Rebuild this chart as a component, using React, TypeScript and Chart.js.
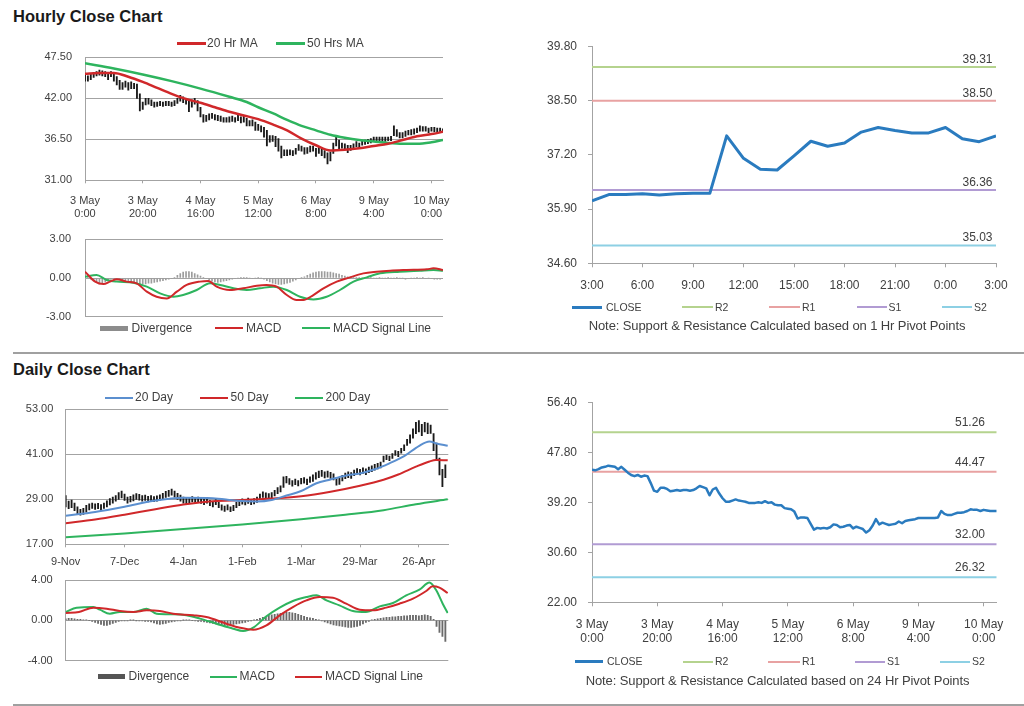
import React, { useEffect, useRef } from 'react';
import { Chart, registerables } from 'chart.js';

Chart.register(...registerables);

const FONT = "'Liberation Sans', Arial, sans-serif";
Chart.defaults.font.family = FONT;
Chart.defaults.color = '#404040';

const RED = '#d0282a';
const GREEN = '#2eb45e';
const BLUE_MA = '#5b8fcf';
const CLOSE_BLUE = '#2a7bbf';
const GRID = '#a3a3a3';
const TXT = '#404040';

// ---------------- Hourly close chart (top-left) ----------------
const hourTickPos = [0, 20, 40, 60, 80, 100, 120];
const hourlyTickLabels = [
  ['3 May', '0:00'], ['3 May', '20:00'], ['4 May', '16:00'], ['5 May', '12:00'],
  ['6 May', '8:00'], ['9 May', '4:00'], ['10 May', '0:00'],
];
const hourlyYTicks = [31, 36.5, 42, 47.5];

const hourlyClose = [
  44.8, 44.7, 44.9, 45.2, 45.3, 45.5, 45.4, 45.3, 44.9, 45.3,
  44.8, 44.3, 43.9, 43.7, 43.9, 43.6, 43.8, 43.7, 42.5, 41.2,
  41.0, 41.7, 41.7, 41.5, 41.1, 41.2, 41.3, 41.2, 41.3, 41.3,
  41.2, 41.3, 41.6, 42.0, 41.8, 41.6, 40.4, 41.4, 41.7, 40.7,
  39.9, 39.3, 39.3, 39.5, 39.7, 39.5, 39.4, 39.3, 39.1, 39.1,
  39.1, 39.2, 39.1, 39.4, 39.1, 39.2, 38.8, 38.7, 38.7, 38.2,
  38.1, 38.0, 37.6, 36.4, 36.6, 36.6, 36.5, 35.5, 34.5, 34.8,
  34.7, 34.8, 34.7, 34.9, 35.4, 35.3, 34.9, 35.0, 35.2, 35.3,
  34.7, 35.0, 34.8, 34.6, 34.0, 34.4, 35.2, 36.3, 35.4, 35.7,
  35.5, 35.3, 35.4, 35.5, 35.9, 35.6, 36.0, 36.1, 36.2, 36.3,
  36.5, 36.5, 36.5, 36.5, 36.5, 36.5, 36.6, 37.7, 37.2, 37.0,
  37.0, 37.2, 37.4, 37.4, 37.5, 37.7, 38.0, 37.9, 37.9, 37.7,
  37.9, 37.8, 37.7, 37.7, 37.7,
];
const hourlyHigh = [
  45.2, 45.0, 45.3, 45.5, 45.6, 45.8, 45.7, 45.6, 45.4, 45.6,
  45.4, 44.9, 44.4, 44.1, 44.3, 44.1, 44.2, 44.0, 43.9, 42.6,
  41.5, 42.0, 42.0, 41.8, 41.5, 41.5, 41.6, 41.5, 41.6, 41.6,
  41.5, 41.7, 42.0, 42.4, 42.2, 42.0, 41.7, 41.8, 42.0, 41.7,
  40.8, 39.8, 39.7, 39.9, 40.0, 39.8, 39.7, 39.6, 39.4, 39.4,
  39.5, 39.6, 39.4, 39.8, 39.5, 39.6, 39.3, 39.0, 39.1, 38.8,
  38.5, 38.3, 38.1, 37.7, 37.0, 37.0, 36.9, 36.6, 35.6, 35.1,
  35.1, 35.1, 35.0, 35.3, 35.8, 35.6, 35.4, 35.4, 35.6, 35.6,
  35.3, 35.4, 35.2, 35.0, 34.7, 34.8, 36.0, 36.8, 36.4, 36.0,
  35.9, 35.7, 35.7, 35.9, 36.2, 36.0, 36.3, 36.4, 36.5, 36.6,
  36.8, 36.8, 36.8, 36.8, 36.8, 36.8, 36.9, 38.3, 37.8, 37.4,
  37.4, 37.6, 37.7, 37.8, 37.9, 38.0, 38.3, 38.2, 38.2, 38.0,
  38.1, 38.1, 38.0, 38.0, 37.9,
];
const hourlyLow = [
  44.3, 44.3, 44.5, 44.8, 45.0, 45.1, 45.0, 44.9, 44.5, 44.9,
  44.3, 43.8, 43.2, 43.2, 43.5, 43.1, 43.3, 43.3, 42.0, 40.3,
  40.5, 41.1, 41.2, 41.0, 40.8, 40.9, 41.0, 40.9, 41.0, 41.0,
  40.9, 41.0, 41.3, 41.6, 41.4, 41.2, 40.2, 40.8, 41.2, 40.3,
  39.5, 38.8, 38.9, 39.1, 39.3, 39.1, 39.0, 38.9, 38.8, 38.8,
  38.8, 38.9, 38.8, 39.0, 38.7, 38.8, 38.3, 38.3, 38.3, 37.7,
  37.7, 37.5, 36.8, 35.6, 36.1, 36.2, 35.5, 34.9, 34.0, 34.3,
  34.3, 34.4, 34.3, 34.5, 35.0, 34.9, 34.5, 34.6, 34.8, 34.9,
  34.2, 34.6, 34.3, 34.0, 33.2, 33.6, 34.6, 35.6, 35.0, 35.3,
  35.1, 34.7, 35.0, 35.2, 35.5, 35.3, 35.7, 35.8, 35.9, 36.0,
  36.2, 36.2, 36.2, 36.2, 36.2, 36.3, 36.3, 37.0, 36.9, 36.7,
  36.7, 36.9, 37.1, 37.1, 37.2, 37.4, 37.6, 37.6, 37.6, 37.4,
  37.6, 37.5, 37.4, 37.4, 37.4,
];
const hourlyMa20 = [
  [0, 45.3], [5, 45.4], [10, 45.4], [15, 44.9], [20, 44.2], [25, 43.4], [30, 42.6],
  [35, 41.9], [40, 41.4], [45, 40.8], [50, 40.2], [55, 39.7], [60, 39.2], [65, 38.5],
  [70, 37.7], [75, 36.6], [80, 35.7], [85, 35.0], [90, 35.1], [95, 35.3], [100, 35.6],
  [105, 35.9], [110, 36.4], [115, 36.9], [120, 37.2], [124, 37.5],
];
const hourlyMa50 = [
  [0, 46.7], [10, 46.0], [20, 45.2], [30, 44.3], [40, 43.3], [50, 42.2], [56, 41.5],
  [60, 40.8], [65, 40.0], [70, 39.1], [75, 38.3], [80, 37.7], [85, 37.1], [90, 36.7],
  [95, 36.4], [100, 36.2], [105, 36.0], [110, 35.9], [115, 35.9], [120, 36.1], [124, 36.4],
];

// ---------------- Hourly MACD ----------------
const hourlyMacdTicks = [-3, 0, 3];
const hourlyMacd = [
  [0, 0.49], [3.5, -0.28], [6.4, -0.47], [8.7, -0.28], [11, -0.1], [14.4, -0.28], [17.9, -0.41],
  [21.4, -1.06], [24.8, -1.45], [28.3, -1.58], [31.8, -1.06], [35.2, -0.54], [39.8, -0.28],
  [42.7, -0.23], [45.6, -0.67], [50.2, -0.93], [54.8, -0.8], [59.5, -0.6], [62.9, -0.54],
  [66.4, -0.67], [69.9, -1.32], [73.3, -1.71], [75.6, -1.71], [79.1, -1.32], [82.6, -0.8],
  [87.2, -0.28], [91.8, 0.05], [96.4, 0.36], [101, 0.49], [105.7, 0.57], [111.4, 0.62],
  [118.4, 0.67], [120.7, 0.75], [124, 0.62],
];
const hourlySignal = [
  [0, 0.1], [4, 0.23], [7.5, -0.15], [11, -0.28], [16.7, -0.36], [21.4, -0.67], [26, -1.19],
  [30.6, -1.45], [34, -1.32], [38.7, -0.93], [43.3, -0.41], [46.8, -0.54], [51.4, -0.8],
  [56, -0.93], [60.6, -0.8], [65.2, -0.67], [69.9, -0.93], [74.5, -1.45], [79.1, -1.66],
  [83.7, -1.45], [88.3, -0.93], [93, -0.28], [97.6, 0.05], [102.2, 0.36], [109, 0.49],
  [116, 0.57], [120.7, 0.62], [124, 0.57],
];
const hourlyDivergence = [
  0.3, 0.2,
  -0.1, -0.25, -0.35, -0.45, -0.4, -0.3, -0.2,
  -0.1, -0.05, -0.1, -0.15,
  -0.2, -0.25, -0.3, -0.3, -0.35, -0.4, -0.45, -0.45, -0.45, -0.4, -0.4, -0.35, -0.3, -0.25, -0.2, -0.15,
  -0.1, -0.05, 0.05,
  0.2, 0.35, 0.45, 0.5, 0.5, 0.45, 0.35, 0.25, 0.15,
  0.05, -0.05, -0.15, -0.25,
  -0.3, -0.35, -0.3, -0.25, -0.2, -0.15, -0.1, -0.05,
  0.0, 0.05, 0.05, 0.05, 0.0, -0.05, 0.0, 0.05, 0.0, -0.1, -0.2,
  -0.3, -0.4, -0.45, -0.5, -0.5, -0.45, -0.4, -0.35, -0.25, -0.15,
  -0.05, 0.05, 0.1, 0.2,
  0.3, 0.4, 0.45, 0.5, 0.5, 0.5, 0.45, 0.45, 0.4, 0.35, 0.3, 0.2, 0.15,
  0.1, 0.1, 0.05, 0.05, 0.05, 0.0, 0.05, 0.0, 0.05, 0.0, 0.0, 0.05, 0.0, 0.0, 0.05, 0.0, 0.0, 0.05, 0.0, 0.0,
  -0.1, -0.05, 0.0, 0.0, 0.05,
  0.0, 0.05, -0.05, 0.0, -0.05, -0.1, -0.1, -0.1, -0.05,
];

// ---------------- 1 Hr pivot chart (top-right) ----------------
const pivotHourTickPos = [0, 3, 6, 9, 12, 15, 18, 21, 24];
const pivotHourLabels = ['3:00', '6:00', '9:00', '12:00', '15:00', '18:00', '21:00', '0:00', '3:00'];
const pivotHourYTicks = [34.6, 35.9, 37.2, 38.5, 39.8];
const pivotHourClose = [
  36.1, 36.25, 36.25, 36.27, 36.24, 36.27, 36.28, 36.28, 37.66, 37.12, 36.86, 36.84, 37.18,
  37.53, 37.41, 37.49, 37.75, 37.86, 37.79, 37.73, 37.73, 37.86, 37.59, 37.52, 37.66,
];
const levelNames = ['R2', 'R1', 'S1', 'S2'];
const levelColors = ['#b5d38e', '#e8a2a2', '#b19bd3', '#8dd0e4'];
const pivotHourLevels = [39.31, 38.5, 36.36, 35.03];

// ---------------- Daily close chart ----------------
const dayTickPos = [0, 20, 40, 60, 80, 100, 120];
const dailyTickLabels = ['9-Nov', '7-Dec', '4-Jan', '1-Feb', '1-Mar', '29-Mar', '26-Apr'];
const dailyYTicks = [17, 29, 41, 53];
const dailyHigh = [
  30.0, 28.5, 28.8, 28.0, 27.0, 26.3, 26.6, 27.4, 27.8, 28.0,
  27.8, 27.9, 27.6, 28.0, 28.6, 29.2, 29.6, 30.0, 30.8, 31.2,
  30.4, 29.6, 29.8, 30.2, 30.5, 30.3, 30.0, 30.1, 29.8, 30.0,
  29.7, 29.9, 30.2, 30.6, 31.1, 31.4, 31.7, 31.2, 30.6, 30.1,
  29.6, 29.3, 29.5, 29.7, 29.4, 29.6, 29.3, 29.0, 29.4, 28.7,
  28.4, 29.0, 28.2, 27.5, 27.2, 27.5, 27.0, 27.4, 28.2, 28.7,
  29.1, 28.9, 29.3, 29.0, 29.2, 29.6, 30.4, 31.0, 30.7, 30.5,
  30.8, 31.4, 32.1, 32.6, 35.0, 35.1, 34.5, 34.0, 34.4, 34.0,
  34.6, 34.8, 34.4, 35.0, 35.5, 36.1, 36.5, 36.7, 36.3, 36.5,
  36.2, 35.8, 34.6, 34.6, 35.4, 36.0, 36.3, 36.1, 36.8, 37.2,
  37.0, 37.4, 37.1, 37.6, 37.9, 38.3, 38.6, 38.9, 40.5, 40.8,
  40.5, 41.2, 42.0, 41.8, 42.6, 43.5, 45.0, 46.2, 47.8, 49.5,
  50.0, 49.0, 49.5, 49.3, 48.8, 46.5, 44.0, 40.0, 37.0, 38.2,
];
const dailyLow = [
  27.0, 26.5, 26.8, 26.0, 25.2, 24.8, 25.0, 25.6, 26.2, 26.6,
  26.3, 26.5, 26.1, 26.6, 27.0, 27.5, 28.0, 28.5, 29.0, 29.4,
  28.7, 28.0, 28.3, 28.6, 29.0, 28.8, 28.5, 28.7, 28.3, 28.6,
  28.4, 28.5, 28.8, 29.1, 29.5, 29.8, 30.1, 29.6, 29.0, 28.5,
  28.0, 27.8, 28.0, 28.3, 28.0, 28.2, 27.9, 27.6, 28.0, 27.3,
  27.0, 27.6, 26.8, 26.1, 25.8, 26.2, 25.7, 26.0, 26.8, 27.3,
  27.7, 27.5, 27.9, 27.6, 27.8, 28.2, 28.9, 29.5, 29.3, 29.1,
  29.4, 29.9, 30.5, 31.0, 32.2, 33.4, 33.0, 32.5, 32.9, 32.6,
  33.1, 33.3, 32.9, 33.5, 33.8, 34.4, 34.8, 35.1, 34.7, 34.9,
  34.6, 34.2, 32.8, 33.0, 33.9, 34.5, 34.8, 34.6, 35.3, 35.7,
  35.5, 35.9, 35.6, 36.1, 36.4, 36.8, 37.1, 37.4, 39.0, 39.6,
  39.3, 39.9, 40.7, 40.4, 41.3, 42.0, 43.4, 44.0, 45.3, 46.5,
  47.0, 46.0, 47.0, 46.5, 46.6, 42.0, 39.5, 35.5, 32.4, 34.8,
];
const dailyMa20 = [
  [0, 24.6], [10, 25.6], [20, 27.0], [30, 28.6], [40, 29.4], [50, 29.3], [58, 28.6], [65, 28.4],
  [70, 28.8], [75, 30.0], [80, 31.2], [85, 33.2], [90, 34.3], [95, 35.3], [100, 35.9], [105, 37.0],
  [110, 38.6], [115, 40.5], [120, 43.2], [123.6, 44.4], [126, 43.9], [129.8, 43.3],
];
const dailyMa50 = [
  [0, 22.6], [10, 23.6], [20, 24.9], [30, 26.3], [40, 27.6], [50, 28.5], [60, 28.8], [70, 29.2],
  [80, 29.8], [90, 31.0], [100, 32.6], [108, 34.2], [113, 35.6], [119, 37.7], [123.6, 39.1],
  [125.8, 39.5], [129.8, 39.4],
];
const dailyMa200 = [
  [0, 18.9], [20, 19.9], [40, 21.1], [60, 22.3], [80, 23.7], [95, 24.9], [108, 26.1], [119, 27.7],
  [129.8, 29.0],
];

// ---------------- Daily MACD ----------------
const dailyMacdTicks = [-4, 0, 4];
const dailyMacd = [
  [0, 0.83], [3.7, 1.26], [9.4, 1.32], [11.6, 1.06], [15, 0.66], [18.4, 0.83], [23, 0.83],
  [27.5, 1.16], [30.9, 0.66], [36.5, 0.6], [41, 0.5], [45.6, 0.17], [51.2, -0.33], [56.9, -0.83],
  [60.3, -1.06], [63.7, -0.73], [68.2, 0.4], [72.7, 1.26], [77.2, 1.92], [81.8, 2.31], [85.2, 2.48],
  [88.6, 1.98], [93, 1.49], [97.6, 0.93], [102, 0.83], [106.7, 1.39], [111.2, 1.72], [115.7, 2.48],
  [120.2, 3.04], [123.6, 3.74], [125.9, 2.98], [128.1, 1.65], [129.8, 0.73],
];
const dailySignal = [
  [0, 0.73], [4.5, 0.83], [9.4, 1.26], [13.9, 1.16], [18.4, 0.93], [23, 0.83], [27.5, 0.99],
  [32, 0.93], [36.5, 0.66], [43.3, 0.5], [47.8, 0.33], [54.6, -0.33], [59.2, -0.73], [63.7, -0.93],
  [68.2, -0.5], [72.7, 0.5], [77.2, 1.32], [81.8, 1.98], [86.3, 2.31], [90.8, 2.25], [95.3, 1.65],
  [99.9, 1.06], [104.4, 0.99], [108.9, 1.26], [113.4, 1.65], [118, 2.15], [122.5, 2.91],
  [124.7, 3.37], [127, 3.24], [129.8, 2.71],
];
const dailyDivergence = [
  0.15, 0.2, 0.2, 0.15, 0.1, 0.1, 0.05, 0.05, 0.0,
  -0.1, -0.2, -0.3, -0.4, -0.5, -0.5, -0.4, -0.3, -0.2,
  -0.1, -0.05, -0.05, -0.05, 0.02, 0.02, -0.03, -0.05, -0.05, -0.1, -0.1, -0.15,
  -0.25, -0.35, -0.4, -0.35, -0.3, -0.2, -0.15, -0.1, -0.05,
  -0.05, 0.02, 0.05, 0.05, 0.0, -0.05, -0.1, -0.1, -0.15,
  -0.2, -0.25, -0.3, -0.35, -0.4, -0.45, -0.5, -0.5, -0.45, -0.4, -0.35, -0.3, -0.25, -0.2, -0.1, -0.05,
  0.05, 0.1, 0.2, 0.3, 0.4, 0.5, 0.55, 0.6, 0.65, 0.7, 0.75, 0.8, 0.8, 0.75, 0.7, 0.6, 0.5, 0.4, 0.3, 0.25, 0.2, 0.1, 0.05,
  -0.05, -0.15, -0.25, -0.35, -0.45, -0.5, -0.55, -0.6, -0.65, -0.7, -0.7, -0.65, -0.6, -0.5, -0.35, -0.2, -0.1,
  0.05, 0.1, 0.15, 0.2, 0.25, 0.3, 0.3, 0.35, 0.35, 0.4, 0.4, 0.45, 0.45, 0.5, 0.5, 0.5, 0.45, 0.5, 0.55, 0.5, 0.4, 0.1,
  -0.6, -1.2, -1.6, -2.1,
];

// ---------------- 24 Hr pivot chart (bottom-right) ----------------
const pivotDayYTicks = [22, 30.6, 39.2, 47.8, 56.4];
const pivotDayLevels = [51.26, 44.47, 32.0, 26.32];

// ---------------- helpers ----------------
const pts = (pairs: number[][]) => pairs.map(([x, y]) => ({ x, y }));

const levelLabelPlugin = {
  id: 'levelLabels',
  afterDatasetsDraw(chart: any, _args: any, opts: any) {
    const { ctx, chartArea, scales } = chart;
    ctx.save();
    ctx.font = `12px ${FONT}`;
    ctx.fillStyle = TXT;
    ctx.textAlign = 'right';
    ctx.textBaseline = 'middle';
    chart.data.datasets.forEach((ds: any) => {
      if (ds.levelValue === undefined) return;
      const y = scales.y.getPixelForValue(ds.levelValue);
      ctx.fillText(ds.levelValue.toFixed(2), chartArea.right - opts.dx, y - opts.dy);
    });
    ctx.restore();
  },
};

function baseOptions(pad: any, extraPlugins: any = {}) {
  return {
    animation: false,
    responsive: false,
    devicePixelRatio: 1,
    events: [],
    layout: { padding: pad, autoPadding: false },
    plugins: { legend: { display: false }, tooltip: { enabled: false }, ...extraPlugins },
    elements: { point: { radius: 0 }, line: { borderJoinStyle: 'round' } },
  };
}

function xAxis(min: number, max: number, positions: number[], labels: any[], o: any) {
  return {
    type: 'linear',
    min,
    max,
    offset: false,
    afterBuildTicks: (s: any) => {
      s.ticks = positions.map((v) => ({ value: v }));
    },
    afterFit: (s: any) => {
      s.height = o.height;
    },
    ticks: {
      autoSkip: false,
      maxRotation: 0,
      padding: o.padding,
      color: TXT,
      font: { size: o.size, lineHeight: o.lineHeight },
      callback: (_v: any, i: number) => labels[i],
    },
    grid: { drawOnChartArea: false, drawTicks: true, tickLength: o.tickLength, color: GRID, offset: false },
    border: { display: true, color: GRID, width: 1 },
  };
}

const hiddenX = (max: number) => ({ type: 'linear', min: 0, max, offset: false, display: false, grid: { offset: false } });

// gap: distance between the axis line and the right edge of the labels
function yAxis(values: number[], o: any) {
  const visibleTick = o.visibleTick || 0;
  return {
    type: 'linear',
    min: values[0],
    max: values[values.length - 1],
    afterBuildTicks: (s: any) => {
      s.ticks = values.map((v) => ({ value: v }));
    },
    afterFit: (s: any) => {
      s.width = o.width;
    },
    ticks: {
      padding: visibleTick ? o.gap - visibleTick : 0,
      color: TXT,
      font: { size: o.size },
      callback: (v: any) => Number(v).toFixed(2),
    },
    grid: {
      drawOnChartArea: o.grid,
      drawTicks: true,
      tickLength: visibleTick ? visibleTick : o.gap,
      tickColor: visibleTick ? GRID : 'rgba(0,0,0,0)',
      color: GRID,
    },
    border: { display: true, color: GRID, width: 1 },
  };
}

function levelDatasets(levels: number[], xMax: number) {
  return levels.map((v, i) => ({
    type: 'line',
    label: levelNames[i],
    data: [{ x: 0, y: v }, { x: xMax, y: v }],
    borderColor: levelColors[i],
    borderWidth: 2,
    levelValue: v,
    order: 5,
  }));
}

// ---------------- chart configs ----------------
const hourlyPriceConfig = () => ({
  type: 'line',
  data: {
    datasets: [
      { type: 'line', label: '20 Hr MA', data: pts(hourlyMa20), borderColor: RED, borderWidth: 2.5, cubicInterpolationMode: 'monotone', order: 1 },
      { type: 'line', label: '50 Hrs MA', data: pts(hourlyMa50), borderColor: GREEN, borderWidth: 2.5, cubicInterpolationMode: 'monotone', order: 2 },
      { type: 'bar', label: 'Price', data: hourlyHigh.map((h, i) => ({ x: i, y: [hourlyLow[i], h] })), backgroundColor: '#1a1a1a', barThickness: 1.2, order: 3 },
    ],
  },
  options: {
    ...baseOptions({ top: 27.3, right: 27, bottom: 4.7, left: 0 }),
    scales: {
      x: xAxis(0, 124, hourTickPos, hourlyTickLabels, { size: 11, lineHeight: 1.21, padding: 11, tickLength: 3, height: 45 }),
      y: yAxis(hourlyYTicks, { width: 85, gap: 13, size: 11, grid: true }),
    },
  },
});

const hourlyMacdConfig = () => ({
  type: 'line',
  data: {
    datasets: [
      { type: 'line', label: 'MACD', data: pts(hourlyMacd), borderColor: RED, borderWidth: 2, cubicInterpolationMode: 'monotone', order: 1 },
      { type: 'line', label: 'MACD Signal Line', data: pts(hourlySignal), borderColor: GREEN, borderWidth: 2, cubicInterpolationMode: 'monotone', order: 2 },
      { type: 'bar', label: 'Divergence', data: hourlyDivergence.map((v, i) => ({ x: i, y: v })), backgroundColor: '#9c9c9c', barThickness: 1, order: 3 },
    ],
  },
  options: {
    ...baseOptions({ top: 9.3, right: 27, bottom: 8.3, left: 0 }),
    scales: {
      x: hiddenX(124),
      y: yAxis(hourlyMacdTicks, { width: 85, gap: 14, size: 11, grid: true }),
    },
  },
});

const pivotHourConfig = () => ({
  type: 'line',
  data: {
    datasets: [
      { type: 'line', label: 'CLOSE', data: pivotHourClose.map((v, i) => ({ x: i, y: v })), borderColor: CLOSE_BLUE, borderWidth: 3, order: 1 },
      ...levelDatasets(pivotHourLevels, 24),
    ],
  },
  plugins: [levelLabelPlugin],
  options: {
    ...baseOptions({ top: 26.7, right: 28, bottom: 0, left: 0 }, { levelLabels: { dx: 3.5, dy: 7.5 } }),
    scales: {
      x: xAxis(0, 24, pivotHourTickPos, pivotHourLabels, { size: 12, lineHeight: 1.17, padding: 11, tickLength: 4, height: 86.7 }),
      y: yAxis(pivotHourYTicks, { width: 72, gap: 15, visibleTick: 4, size: 12, grid: false }),
    },
  },
});

const dailyPriceConfig = () => ({
  type: 'line',
  data: {
    datasets: [
      { type: 'line', label: '20 Day', data: pts(dailyMa20), borderColor: BLUE_MA, borderWidth: 2, cubicInterpolationMode: 'monotone', order: 1 },
      { type: 'line', label: '50 Day', data: pts(dailyMa50), borderColor: RED, borderWidth: 2, cubicInterpolationMode: 'monotone', order: 2 },
      { type: 'line', label: '200 Day', data: pts(dailyMa200), borderColor: GREEN, borderWidth: 2, cubicInterpolationMode: 'monotone', order: 2 },
      { type: 'bar', label: 'Price', data: dailyHigh.map((h, i) => ({ x: i, y: [dailyLow[i], h] })), backgroundColor: '#1a1a1a', barThickness: 1.2, order: 3 },
    ],
  },
  options: {
    ...baseOptions({ top: 24.3, right: 21.7, bottom: 0, left: 0 }),
    scales: {
      x: xAxis(0, 130, dayTickPos, dailyTickLabels, { size: 11, lineHeight: 1.2, padding: 8.4, tickLength: 3, height: 25.7 }),
      y: yAxis(dailyYTicks, { width: 65.7, gap: 12.4, size: 11, grid: true }),
    },
  },
});

const dailyMacdConfig = () => ({
  type: 'line',
  data: {
    datasets: [
      { type: 'line', label: 'MACD', data: pts(dailyMacd), borderColor: GREEN, borderWidth: 2, cubicInterpolationMode: 'monotone', order: 2 },
      { type: 'line', label: 'MACD Signal Line', data: pts(dailySignal), borderColor: RED, borderWidth: 2, cubicInterpolationMode: 'monotone', order: 1 },
      { type: 'bar', label: 'Divergence', data: dailyDivergence.map((v, i) => ({ x: i, y: v })), backgroundColor: '#6a6a6a', barThickness: 1.2, order: 3 },
    ],
  },
  options: {
    ...baseOptions({ top: 8, right: 21.7, bottom: 9.3, left: 0 }),
    scales: {
      x: hiddenX(130),
      y: yAxis(dailyMacdTicks, { width: 65.7, gap: 13, size: 11, grid: true }),
    },
  },
});

const pivotDayConfig = () => ({
  type: 'line',
  data: {
    datasets: [
      { type: 'line', label: 'CLOSE', data: hourlyClose.map((v, i) => ({ x: i, y: v })), borderColor: CLOSE_BLUE, borderWidth: 2.5, order: 1 },
      ...levelDatasets(pivotDayLevels, 124),
    ],
  },
  plugins: [levelLabelPlugin],
  options: {
    ...baseOptions({ top: 22.3, right: 27.3, bottom: 0, left: 0 }, { levelLabels: { dx: 11.7, dy: 9.3 } }),
    scales: {
      x: xAxis(0, 124, hourTickPos, hourlyTickLabels, { size: 12, lineHeight: 1.17, padding: 11, tickLength: 4, height: 97.7 }),
      y: yAxis(pivotDayYTicks, { width: 72, gap: 15, visibleTick: 4, size: 12, grid: false }),
    },
  },
});

// ---------------- components ----------------
function ChartBox({ left, top, width, height, config }: any) {
  const ref = useRef<HTMLCanvasElement>(null);
  useEffect(() => {
    const chart = new Chart(ref.current as HTMLCanvasElement, config() as any);
    return () => chart.destroy();
  }, []);
  return (
    <canvas
      ref={ref}
      width={width}
      height={height}
      style={{ position: 'absolute', left, top, width, height }}
    />
  );
}

type LegItem = { label: string; color: string; x: number; w: number; h: number; tx: number };

function LegendRow({ y, size, items }: { y: number; size: number; items: LegItem[] }) {
  return (
    <>
      {items.map((it) => (
        <React.Fragment key={it.label}>
          <div style={{ position: 'absolute', left: Math.round(it.x), top: Math.round(y - it.h / 2), width: it.w, height: it.h, background: it.color }} />
          <div
            style={{
              position: 'absolute',
              left: it.tx,
              top: y - size * 0.52,
              fontSize: size,
              lineHeight: `${size}px`,
              color: TXT,
              whiteSpace: 'nowrap',
            }}
          >
            {it.label}
          </div>
        </React.Fragment>
      ))}
    </>
  );
}

function Note({ cx, y, text }: { cx: number; y: number; text: string }) {
  return (
    <div
      style={{
        position: 'absolute',
        left: cx - 250,
        width: 500,
        top: y - 13 * 0.52,
        textAlign: 'center',
        fontSize: 13,
        lineHeight: '13px',
        color: TXT,
        whiteSpace: 'nowrap',
        letterSpacing: -0.1,
      }}
    >
      {text}
    </div>
  );
}

const titleStyle: any = {
  position: 'absolute',
  left: 13,
  fontSize: 16.5,
  fontWeight: 'bold',
  color: '#1a1a1a',
  lineHeight: '18px',
  whiteSpace: 'nowrap',
};

export default function App() {
  return (
    <div
      style={{
        position: 'absolute',
        left: 0,
        top: 0,
        width: 1024,
        height: 706,
        background: '#ffffff',
        fontFamily: FONT,
        overflow: 'hidden',
      }}
    >
      <div style={{ ...titleStyle, top: 6.6 }}>Hourly Close Chart</div>
      <div style={{ ...titleStyle, top: 359.6 }}>Daily Close Chart</div>
      <div style={{ position: 'absolute', left: 13, top: 352, width: 1011, height: 2, background: '#a0a0a0' }} />
      <div style={{ position: 'absolute', left: 13, top: 704, width: 1011, height: 2, background: '#a0a0a0' }} />

      <ChartBox left={0} top={30} width={470} height={200} config={hourlyPriceConfig} />
      <ChartBox left={0} top={230} width={470} height={95} config={hourlyMacdConfig} />
      <ChartBox left={520} top={20} width={504} height={330} config={pivotHourConfig} />
      <ChartBox left={0} top={385} width={470} height={185} config={dailyPriceConfig} />
      <ChartBox left={0} top={572} width={470} height={98} config={dailyMacdConfig} />
      <ChartBox left={520} top={380} width={504} height={320} config={pivotDayConfig} />

      <LegendRow
        y={43.7}
        size={12}
        items={[
          { label: '20 Hr MA', color: RED, x: 176.5, w: 29, h: 3, tx: 207 },
          { label: '50 Hrs MA', color: GREEN, x: 276, w: 29, h: 3, tx: 307 },
        ]}
      />
      <LegendRow
        y={328.3}
        size={12}
        items={[
          { label: 'Divergence', color: '#8c8c8c', x: 100, w: 28, h: 5, tx: 131.5 },
          { label: 'MACD', color: RED, x: 215, w: 28, h: 2, tx: 246 },
          { label: 'MACD Signal Line', color: GREEN, x: 302, w: 28, h: 2, tx: 333 },
        ]}
      />
      <LegendRow
        y={307.3}
        size={10.5}
        items={[
          { label: 'CLOSE', color: CLOSE_BLUE, x: 572, w: 30, h: 3, tx: 606 },
          { label: levelNames[0], color: levelColors[0], x: 682, w: 31, h: 2, tx: 715 },
          { label: levelNames[1], color: levelColors[1], x: 769, w: 31, h: 2, tx: 802 },
          { label: levelNames[2], color: levelColors[2], x: 857, w: 30, h: 2, tx: 888.5 },
          { label: levelNames[3], color: levelColors[3], x: 942, w: 30, h: 2, tx: 974 },
        ]}
      />
      <Note cx={777} y={326} text={'Note: Support & Resistance Calculated based on 1 Hr Pivot Points'} />
      <LegendRow
        y={397.7}
        size={12}
        items={[
          { label: '20 Day', color: BLUE_MA, x: 105, w: 28, h: 2, tx: 135 },
          { label: '50 Day', color: RED, x: 200, w: 28, h: 2, tx: 230.5 },
          { label: '200 Day', color: GREEN, x: 295, w: 28, h: 2, tx: 325.5 },
        ]}
      />
      <LegendRow
        y={676.7}
        size={12}
        items={[
          { label: 'Divergence', color: '#555555', x: 98, w: 27, h: 5, tx: 128.5 },
          { label: 'MACD', color: GREEN, x: 210, w: 27, h: 2, tx: 239.5 },
          { label: 'MACD Signal Line', color: RED, x: 295, w: 27, h: 2, tx: 325 },
        ]}
      />
      <LegendRow
        y={661.7}
        size={10.5}
        items={[
          { label: 'CLOSE', color: CLOSE_BLUE, x: 575, w: 28, h: 3, tx: 607 },
          { label: levelNames[0], color: levelColors[0], x: 683, w: 30, h: 2, tx: 715 },
          { label: levelNames[1], color: levelColors[1], x: 768, w: 32, h: 2, tx: 802 },
          { label: levelNames[2], color: levelColors[2], x: 855, w: 30, h: 2, tx: 887 },
          { label: levelNames[3], color: levelColors[3], x: 940, w: 30, h: 2, tx: 972 },
        ]}
      />
      <Note cx={777.5} y={681} text={'Note: Support & Resistance Calculated based on 24 Hr Pivot Points'} />
    </div>
  );
}
